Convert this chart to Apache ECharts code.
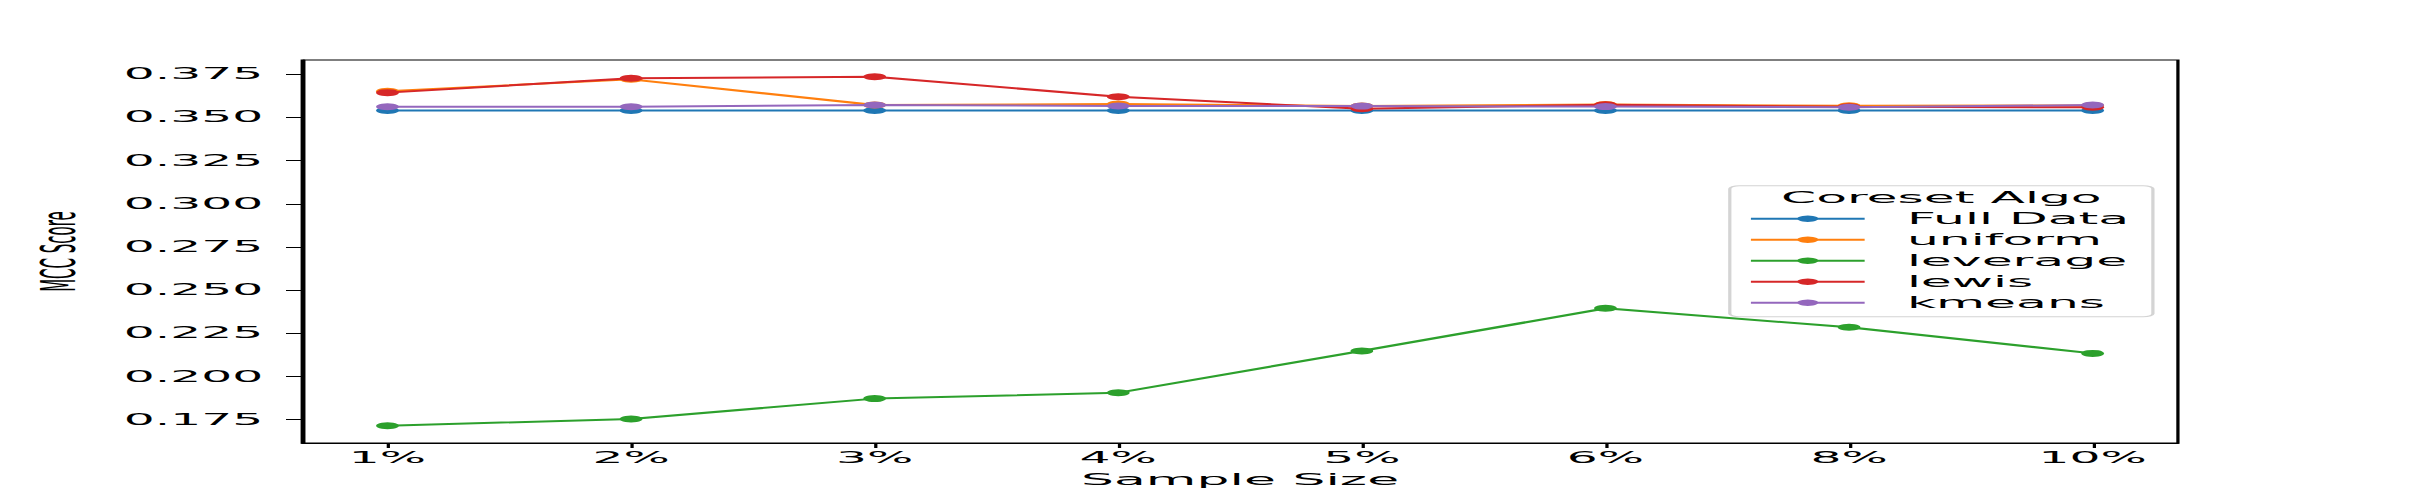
<!DOCTYPE html>
<html>
<head>
<meta charset="utf-8">
<script src="https://cdn.jsdelivr.net/npm/echarts@6/dist/echarts.min.js"></script>
<style>
html,body{margin:0;padding:0;background:#fff;overflow:hidden;width:2421px;height:498px}
#wrap{width:2421px;height:498px;overflow:hidden;position:relative;background:#fff}
#chart{width:745px;height:498px;transform:scaleX(3.24966);transform-origin:0 0;position:absolute;left:0;top:0}
</style>
</head>
<body>
<div id="wrap"><div id="chart"></div></div>
<script>
// ---- data ----
const categories = ['1%', '2%', '3%', '4%', '5%', '6%', '8%', '10%'];
const fullData   = [0.3541, 0.3541, 0.3541, 0.3541, 0.3541, 0.3541, 0.3541, 0.3541];
const uniform    = [0.3652, 0.3721, 0.3572, 0.3578, 0.3566, 0.3575, 0.3568, 0.3570];
const leverage   = [0.1715, 0.1754, 0.1872, 0.1906, 0.2148, 0.2395, 0.2285, 0.2134];
const lewis      = [0.3644, 0.3727, 0.3736, 0.3620, 0.3551, 0.3574, 0.3562, 0.3559];
const kmeans     = [0.3562, 0.3562, 0.3572, 0.3567, 0.3566, 0.3563, 0.3559, 0.3572];
const yTicks     = [0.175, 0.200, 0.225, 0.250, 0.275, 0.300, 0.325, 0.350, 0.375];
const seriesNames = ['Full Data', 'uniform', 'leverage', 'lewis', 'kmeans'];
const legendTitle = 'Coreset Algo';
const xName = 'Sample Size';
const yName = 'MCC Score';

const colors = ['#1f77b4', '#ff7f0e', '#2ca02c', '#d62728', '#9467bd'];
const FONT = 'DejaVu Sans';
const xTicks = categories.map((_, i) => i);

function toPoints(arr) { return arr.map((v, i) => [i, v]); }

const allSeries = [fullData, uniform, leverage, lewis, kmeans];

const chart = echarts.init(document.getElementById('chart'), null, {renderer: 'svg'});
chart.setOption({
  animation: false,
  backgroundColor: '#ffffff',
  color: colors,
  grid: {left: 93, right: 74.8, top: 60, bottom: 55, show: true, borderColor: '#000', borderWidth: 1, backgroundColor: 'transparent', outerBoundsMode: 'none', containLabel: false},
  xAxis: {
    type: 'value', min: -0.35, max: 7.35,
    name: xName, nameLocation: 'middle', nameGap: 26,
    nameTextStyle: {fontFamily: FONT, fontSize: 16, color: '#000'},
    axisLine: {show: true, onZero: false, lineStyle: {color: '#000', width: 1}},
    axisTick: {show: true, customValues: xTicks, length: 5, lineStyle: {color: '#000', width: 1}},
    axisLabel: {customValues: xTicks, formatter: v => categories[Math.round(v)], fontFamily: FONT, fontSize: 15, color: '#000', margin: 8},
    splitLine: {show: false}
  },
  yAxis: {
    type: 'value', min: 0.1615, max: 0.3833,
    name: yName, nameLocation: 'middle', nameGap: 67.5,
    nameTextStyle: {fontFamily: FONT, fontSize: 15, color: '#000'},
    axisLine: {show: true, onZero: false, lineStyle: {color: '#000', width: 1}},
    axisTick: {show: true, customValues: yTicks, length: 5, lineStyle: {color: '#000', width: 1}},
    axisLabel: {customValues: yTicks, formatter: v => v.toFixed(3), fontFamily: FONT, fontSize: 15, color: '#000', margin: 12},
    splitLine: {show: false}
  },
  legend: {
    orient: 'vertical', left: 537.8, top: 210.7, padding: 0,
    itemWidth: 35, itemHeight: 8, itemGap: 5,
    textStyle: {fontFamily: FONT, fontSize: 15.5, color: '#000', lineHeight: 16, padding: [0, 0, 0, 8]},
    data: seriesNames, z: 10
  },
  graphic: [
    {type: 'rect', z: 8, shape: {x: 532.3, y: 185.7, width: 130.2, height: 131, r: 3},
     style: {fill: '#ffffff', stroke: '#d4d4d4', lineWidth: 1}},
    {type: 'text', z: 9, style: {x: 597.4, y: 198, text: legendTitle, textAlign: 'center', textVerticalAlign: 'middle', verticalAlign: 'middle', font: '15.5px "DejaVu Sans"', fill: '#000'}}
  ],
  series: allSeries.map((arr, k) => ({
    name: seriesNames[k], type: 'line', data: toPoints(arr),
    symbol: 'circle', symbolSize: 7, showSymbol: true,
    lineStyle: {width: 2, color: colors[k]}, itemStyle: {color: colors[k]},
    z: 2 + k * 0.01
  }))
});
</script>
</body>
</html>
